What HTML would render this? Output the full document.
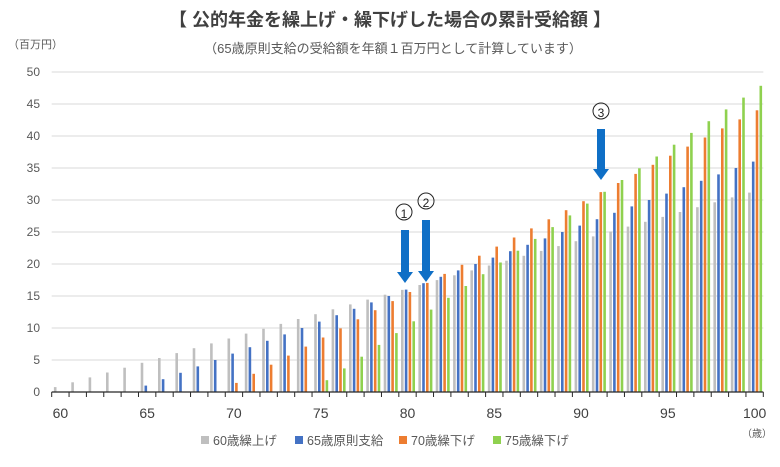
<!DOCTYPE html><html><head><meta charset="utf-8"><style>
body{margin:0;background:#fff;}
svg text{font-family:"Liberation Sans","Noto Sans CJK JP",sans-serif;}
</style></head><body>
<svg id="s" width="780" height="462" xmlns="http://www.w3.org/2000/svg">
<rect width="780" height="462" fill="#fff"/>
<text x="390" y="26" text-anchor="middle" font-size="18" font-weight="bold" fill="#404040">【 公的年金を繰上げ・繰下げした場合の累計受給額 】</text>
<text x="393" y="53" text-anchor="middle" font-size="13" fill="#595959">（65歳原則支給の受給額を年額１百万円として計算しています）</text>
<text x="8" y="48" font-size="11" fill="#595959">（百万円）</text>
<text x="742" y="437" font-size="10" fill="#595959">（歳）</text>
<g id="g"></g>
<g font-size="12.5" fill="#595959">
<rect x="201" y="436" width="8" height="8" fill="#bfbfbf"/><text x="213" y="445">60歳繰上げ</text>
<rect x="295" y="436" width="8" height="8" fill="#4472c4"/><text x="307" y="445">65歳原則支給</text>
<rect x="399" y="436" width="8" height="8" fill="#ed7d31"/><text x="411" y="445">70歳繰下げ</text>
<rect x="493" y="436" width="8" height="8" fill="#8fd14f"/><text x="505" y="445">75歳繰下げ</text>
</g>
<g fill="#0f6fc6">
<rect x="401" y="230" width="8" height="42"/><polygon points="397,272 413,272 405,283"/>
<rect x="422" y="220" width="8" height="51"/><polygon points="418,271 434,271 426,282"/>
<rect x="597" y="129" width="8" height="40"/><polygon points="593,169 609,169 601,180"/>
</g>
<g font-size="16" fill="#222" text-anchor="middle">
<circle cx="404" cy="212" r="8" fill="none" stroke="#222"/><text x="404" y="218" font-size="12">1</text>
<circle cx="426" cy="201" r="8" fill="none" stroke="#222"/><text x="426" y="207" font-size="12">2</text>
<circle cx="601" cy="111" r="8" fill="none" stroke="#222"/><text x="601" y="117" font-size="12">3</text>
</g>
</svg>
<script>
var g=document.getElementById('g'),h='';
var L=51.7,R=763.3,W=(R-L)/41,Y0=392,K=6.4;
for(var v=0;v<=50;v+=5){var y=Y0-v*K;
 if(v>0)h+='<line x1="'+L+'" x2="'+R+'" y1="'+y+'" y2="'+y+'" stroke="#d9d9d9"/>';
 h+='<text x="40" y="'+(y+4)+'" text-anchor="end" font-size="12" fill="#595959">'+v+'</text>';}
var S=[[60,0.76,'#bfbfbf',2.2],[65,1,'#4472c4',6.0],[70,1.42,'#ed7d31',9.8],[75,1.84,'#8fd14f',13.6]];
for(var i=0;i<41;i++){var a=60+i,x0=L+i*W;
 S.forEach(function(s){if(a>=s[0]){var v=(a-s[0]+1)*s[1];h+='<rect x="'+(x0+s[3]).toFixed(1)+'" y="'+(Y0-v*K).toFixed(1)+'" width="2.6" height="'+(v*K).toFixed(1)+'" fill="'+s[2]+'"/>';}});
}
h+='<line x1="'+L+'" x2="'+R+'" y1="'+Y0+'" y2="'+Y0+'" stroke="#262626" stroke-width="1.3"/>';
for(var i=0;i<=41;i++){var x=L+i*W;h+='<line x1="'+x+'" x2="'+x+'" y1="'+Y0+'" y2="'+(Y0+5)+'" stroke="#262626"/>';}
for(var a=60;a<=100;a+=5){var x=L+(a-60+0.5)*W;h+='<text x="'+x+'" y="418" text-anchor="middle" font-size="14" fill="#404040">'+a+'</text>';}
g.innerHTML=h;
</script>
</body></html>
